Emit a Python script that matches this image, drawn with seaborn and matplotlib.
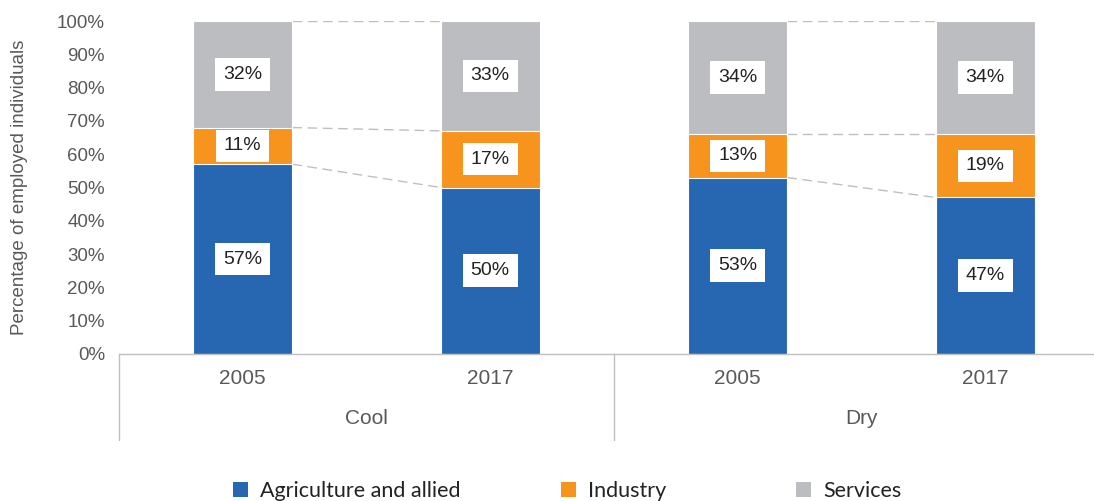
import numpy as np
import pandas as pd
import matplotlib
matplotlib.use('Agg')
import matplotlib.pyplot as plt
import matplotlib.transforms as mtransforms
from matplotlib.patches import Patch
import seaborn as sns

# data
groups = ['Cool', 'Cool', 'Dry', 'Dry']
years = ['2005', '2017', '2005', '2017']
agriculture = [57, 50, 53, 47]
industry = [11, 17, 13, 19]
services = [32, 33, 34, 34]

series_names = ['Agriculture and allied', 'Industry', 'Services']
colors = ['#2767B1', '#F7941D', '#BCBDC0']

df = pd.DataFrame({'group': groups, 'year': years,
                   'agri': agriculture, 'ind': industry, 'serv': services})
df['key'] = df['group'] + ' ' + df['year']
df['agri_top'] = df['agri']
df['ind_top'] = df['agri'] + df['ind']
df['serv_top'] = df['agri'] + df['ind'] + df['serv']

sns.set_style('white')
plt.rcParams['font.family'] = ['Liberation Sans', 'DejaVu Sans']

fig = plt.figure(figsize=(10.94, 5.01), dpi=100)
ax = fig.add_axes([119 / 1094, 147 / 501, 975 / 1094, 333 / 501])

bar_w = 0.4
# draw the stack from the top down so lower layers sit on top
for col, c in zip(['serv_top', 'ind_top', 'agri_top'], colors[::-1]):
    sns.barplot(data=df, x='key', y=col, color=c, width=bar_w, saturation=1,
                edgecolor='white', linewidth=0.8, ax=ax, order=list(df['key']))

ax.set_ylim(0, 100)
ax.set_xlim(-0.5, -0.5 + 975 / 247.5)
ax.set_yticks(np.arange(0, 101, 10))
ax.set_yticklabels([f'{v}%' for v in range(0, 101, 10)])
ax.set_xticks(range(len(years)))
ax.set_xticklabels(years)
ax.tick_params(axis='y', length=0, pad=10, labelsize=13.5, labelcolor='#595959')
ax.tick_params(axis='x', length=0, pad=11, labelsize=15, labelcolor='#595959')
ax.set_xlabel('')
ax.set_ylabel('Percentage of employed individuals', fontsize=13.5,
              color='#595959', labelpad=21)

for s in ['top', 'right', 'left']:
    ax.spines[s].set_visible(False)
ax.spines['bottom'].set_color('#BFBFBF')
ax.spines['bottom'].set_linewidth(1)

# connector dashed lines between the two years of each group
for i in [0, 2]:
    for col in ['agri_top', 'ind_top', 'serv_top']:
        ax.plot([i + bar_w / 2, i + 1 - bar_w / 2],
                [df[col][i], df[col][i + 1]],
                color='#BFBFBF', lw=1, dashes=(7, 4), zorder=0.5)

# value labels in white boxes
for i in range(len(df)):
    lows = [0, df['agri_top'][i], df['ind_top'][i]]
    vals = [df['agri'][i], df['ind'][i], df['serv'][i]]
    for lo, v in zip(lows, vals):
        ax.text(i, lo + v / 2, f'{v}%', ha='center', va='center', fontsize=14,
                color='#222222', zorder=5,
                bbox=dict(boxstyle='square,pad=0.4', fc='white', ec='none'))

# group labels and separators below the axis
trans = mtransforms.blended_transform_factory(ax.transData, ax.transAxes)
px = 1 / 333
for x in [-0.5, 1.5, 3.5]:
    ax.plot([x, x], [0, -86 * px], transform=trans, color='#BFBFBF', lw=1,
            clip_on=False)
for x, g in [(0.5, 'Cool'), (2.5, 'Dry')]:
    ax.text(x, -65 * px, g, transform=trans, ha='center', va='center',
            fontsize=15, color='#595959')

# legend entries placed individually
handles = [Patch(facecolor=c, edgecolor='none') for c in colors]
for h, name, x0 in zip(handles, series_names, [214, 542, 777]):
    fig.legend([h], [name], loc='center left',
               bbox_to_anchor=(x0 / 1094, 10 / 501), frameon=False,
               handlelength=0.7, handleheight=0.7, handletextpad=0.55,
               prop={'family': 'Lato', 'size': 15.5}, labelcolor='#222222')

fig.savefig('out.png', dpi=100)
